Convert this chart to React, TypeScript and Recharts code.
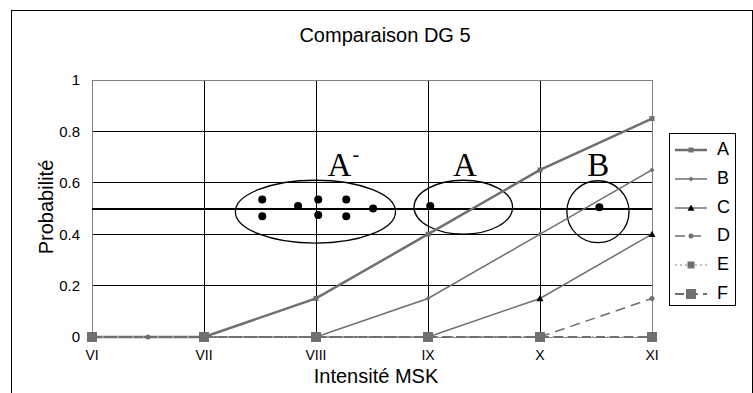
import React from 'react';
import {
  ComposedChart, Line, Scatter, XAxis, YAxis, CartesianGrid, ReferenceLine,
  ReferenceArea, ReferenceDot, Legend, Customized,
} from 'recharts';

// ---- data ----
const intensities = [6, 7, 8, 9, 10, 11];
const xLabels = ['VI', 'VII', 'VIII', 'IX', 'X', 'XI'];
const yTicks = [0, 0.2, 0.4, 0.6, 0.8, 1];
const gridY = [0.2, 0.4, 0.6, 0.8];
const gridX = [7, 8, 9, 10];

const seriesA = [0, 0, 0.15, 0.4, 0.65, 0.85];
const seriesB = [0, 0, 0, 0.15, 0.4, 0.65];
const seriesC = [0, 0, 0, 0, 0.15, 0.4];
const seriesDx = [6, 6.5, 7, 8, 9, 10, 11];
const seriesD = [0, 0, 0, 0, 0, 0, 0.15];
const seriesE = [0, 0, 0, 0, 0, 0];
const seriesF = [0, 0, 0, 0, 0, 0];

const thresholdY = 0.5;

const dotsX = [7.52, 7.52, 7.84, 8.02, 8.02, 8.27, 8.27, 8.51, 9.02, 10.53];
const dotsY = [0.535, 0.47, 0.51, 0.535, 0.475, 0.535, 0.47, 0.5, 0.51, 0.505];

const ellipseX1 = [7.28, 8.875, 10.24];
const ellipseX2 = [8.71, 9.755, 10.795];
const ellipseY1 = [0.365, 0.4, 0.367];
const ellipseY2 = [0.61, 0.61, 0.608];

const groupLabels = ['A', 'A', 'B'];
const groupSup = ['-', '', ''];
const groupLabelX = [8.21, 9.33, 10.52];
const groupLabelY = [0.626, 0.626, 0.626];

const seriesNames = ['A', 'B', 'C', 'D', 'E', 'F'];

// ---- styles ----
const GRAY = '#6f6f6f';
const SANS = '"Liberation Sans", Arial, sans-serif';
const SERIF = '"Liberation Serif", "Times New Roman", serif';

type Style = { marker: string; size: number; width: number; dash?: string; color: string; markerColor: string };
const styles: Record<string, Style> = {
  A: { marker: 'square', size: 5, width: 2.5, color: GRAY, markerColor: GRAY },
  B: { marker: 'diamond', size: 5, width: 1.5, color: GRAY, markerColor: GRAY },
  C: { marker: 'triangle', size: 7, width: 1.5, color: GRAY, markerColor: '#000' },
  D: { marker: 'circle', size: 5, width: 1.5, dash: '10 6', color: GRAY, markerColor: GRAY },
  E: { marker: 'square', size: 7, width: 1.5, dash: '2 3', color: '#aaaaaa', markerColor: GRAY },
  F: { marker: 'square', size: 10, width: 2, dash: '9 5', color: GRAY, markerColor: GRAY },
};

const toPoints = (xs: number[], ys: number[]) => xs.map((x, i) => ({ x, y: ys[i] }));
const lineData: Record<string, { x: number; y: number }[]> = {
  A: toPoints(intensities, seriesA),
  B: toPoints(intensities, seriesB),
  C: toPoints(intensities, seriesC),
  D: toPoints(seriesDx, seriesD),
  E: toPoints(intensities, seriesE),
  F: toPoints(intensities, seriesF),
};
const dotData = toPoints(dotsX, dotsY);

function marker(kind: string, cx: number, cy: number, size: number, color: string, key?: string) {
  const h = size / 2;
  if (kind === 'square') return <rect key={key} x={cx - h} y={cy - h} width={size} height={size} fill={color} />;
  if (kind === 'diamond') return <polygon key={key} points={`${cx},${cy - h} ${cx + h},${cy} ${cx},${cy + h} ${cx - h},${cy}`} fill={color} />;
  if (kind === 'triangle') return <polygon key={key} points={`${cx},${cy - h} ${cx + h},${cy + h * 0.8} ${cx - h},${cy + h * 0.8}`} fill={color} />;
  return <circle key={key} cx={cx} cy={cy} r={h} fill={color} />;
}

const renderLegend = () => (
  <div style={{ width: 67, height: 173, boxSizing: 'border-box', border: '1px solid #000', background: '#fff', paddingTop: 2 }}>
    {seriesNames.map((n) => {
      const s = styles[n];
      return (
        <div key={n} style={{ height: 28.8, position: 'relative' }}>
          <svg width={34} height={28} style={{ position: 'absolute', left: 4, top: 0 }}>
            <line x1={1} y1={14} x2={33} y2={14} stroke={s.color} strokeWidth={s.width} strokeDasharray={s.dash} />
            {marker(s.marker, 17, 14, s.size, s.markerColor)}
          </svg>
          <span style={{ position: 'absolute', left: 47, top: 3, fontFamily: SANS, fontSize: 18, lineHeight: '21px', color: '#000' }}>{n}</span>
        </div>
      );
    })}
  </div>
);

const AxisTitles = () => (
  <g>
    <text x={46} y={207} transform="rotate(-90 46 207)" textAnchor="middle" dominantBaseline="central"
      fontFamily={SANS} fontSize={20} fill="#000">Probabilité</text>
    <text x={376} y={383} textAnchor="middle" fontFamily={SANS} fontSize={20} fill="#000">Intensité MSK</text>
  </g>
);

export default function App() {
  return (
    <div style={{ position: 'fixed', left: 0, top: 0, width: 753, height: 393, overflow: 'hidden', background: '#fff' }}>
      <div style={{ position: 'absolute', left: 11, top: 10, width: 742, height: 400, boxSizing: 'border-box', border: '1px solid #000' }} />
      <div style={{ position: 'absolute', left: 285, top: 23.5, width: 200, textAlign: 'center', fontFamily: SANS, fontSize: 20, lineHeight: '23px', color: '#000' }}>
        Comparaison DG 5
      </div>
      <div style={{ position: 'absolute', left: 0, top: 0 }}>
        <ComposedChart width={753} height={393} margin={{ top: 80, right: 101, bottom: 26, left: 52 }}>
          <CartesianGrid stroke="#000" strokeWidth={1} shapeRendering="crispEdges" horizontalValues={gridY} verticalValues={gridX} />
          <XAxis type="number" dataKey="x" domain={[6, 11]} ticks={intensities} allowDuplicatedCategory={false}
            tickFormatter={(v: number) => xLabels[intensities.indexOf(v)]} axisLine={false} tickLine={false}
            tickMargin={7} height={30} tick={{ fontFamily: SANS, fontSize: 14, fill: '#000' }} />
          <YAxis type="number" domain={[0, 1]} ticks={yTicks} axisLine={false} tickLine={false} tickMargin={6} width={40}
            tick={{ fontFamily: SANS, fontSize: 15, fill: '#000' }} />
          <ReferenceArea x1={6} x2={11} y1={0} y2={1} fill="none" stroke="#808080" strokeWidth={1} shapeRendering="crispEdges" />
          <ReferenceLine y={thresholdY} stroke="#000" strokeWidth={2} shapeRendering="crispEdges" />
          {seriesNames.map((n) => {
            const s = styles[n];
            return (
              <Line key={n} name={n} data={lineData[n]} dataKey="y" type="linear" stroke={s.color} strokeWidth={s.width}
                strokeDasharray={s.dash} isAnimationActive={false} legendType="none"
                dot={(p: any) => marker(s.marker, p.cx, p.cy, s.size, s.markerColor, `${n}-${p.index}`)}
                activeDot={false} />
            );
          })}
          {ellipseX1.map((x1, i) => (
            <ReferenceArea key={`e${i}`} x1={x1} x2={ellipseX2[i]} y1={ellipseY1[i]} y2={ellipseY2[i]}
              shape={(p: any) => (
                <ellipse cx={p.x + p.width / 2} cy={p.y + p.height / 2} rx={Math.abs(p.width) / 2} ry={Math.abs(p.height) / 2}
                  fill="none" stroke="#000" strokeWidth={1.3} />
              )} />
          ))}
          <Scatter data={dotData} dataKey="y" isAnimationActive={false} legendType="none"
            shape={(p: any) => <circle cx={p.cx} cy={p.cy} r={4} fill="#000" />} />
          {groupLabels.map((t, i) => (
            <ReferenceDot key={`l${i}`} x={groupLabelX[i]} y={groupLabelY[i]}
              shape={(p: any) => (
                <g>
                  <text x={p.cx} y={p.cy} textAnchor="middle" fontFamily={SERIF} fontSize={33} fill="#000">{t}</text>
                  {groupSup[i] ? (
                    <text x={p.cx + 13} y={p.cy - 15} textAnchor="start" fontFamily={SERIF} fontSize={20} fill="#000">{groupSup[i]}</text>
                  ) : null}
                </g>
              )} />
          ))}
          <Customized component={AxisTitles} />
          <Legend layout="vertical" align="center" verticalAlign="middle" content={renderLegend}
            wrapperStyle={{ left: 669, top: 133, width: 67, height: 173 }} />
        </ComposedChart>
      </div>
    </div>
  );
}
